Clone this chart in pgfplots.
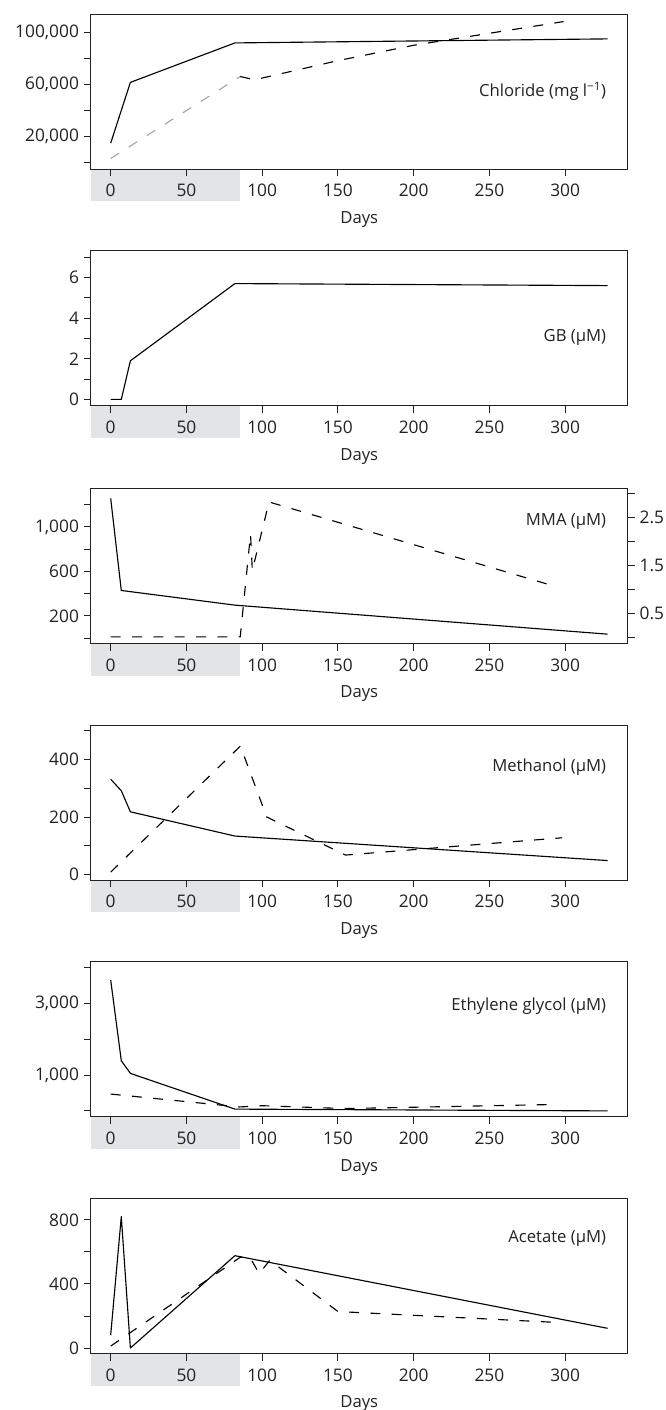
\documentclass[border=0pt]{standalone}
\usepackage{fontspec}
\setmainfont{Open Sans}
\usepackage{pgfplots}
\pgfplotsset{compat=1.18}
\definecolor{band}{HTML}{E3E4E6}
\definecolor{ink}{HTML}{222222}

\newcommand{\lbl}{\fontsize{12.5}{14}\selectfont}
\newcommand{\tck}{\fontsize{13}{15}\selectfont}
\pgfplotsset{
  base/.style={
    scale only axis, width=402.45pt, height=116.25pt,
    anchor=north west, clip=false,
    xmin=-13, xmax=341.2,
    axis line style={ink, line width=0.75pt},
    tick style={ink, line width=0.75pt},
    tick align=outside, major tick length=5.5pt,
    tick pos=left, scaled y ticks=false,
    tick label style={font=\tck, text=ink},
    cycle list={{black, mark=none}},
    every axis plot/.append style={line width=0.85pt, line join=round},
  },
  panel/.style={
    base,
    xtick={0,50,...,300}, xticklabels={0,50,100,150,200,250,300},
    xticklabel style={yshift=-2.5pt},
    xlabel={Days}, label style={font=\lbl, text=ink},
    xlabel style={at={(axis description cs:0.5,0)}, anchor=center, yshift=-38pt},
  },
  dsh/.style={dash pattern=on 7.5pt off 8.5pt},
}
% grey band under the first 85 days, below each panel
\newcommand{\band}[1]{\fill[band] (68.25pt,#1) rectangle (179.73pt,{#1-24.3pt});}
\newcommand{\tag}[2]{\node[anchor=east, font=\lbl, text=ink, inner sep=0pt] at (rel axis cs:0.9605,#1) {#2};}

\begin{document}
\begin{tikzpicture}
\band{-126.75pt}
\band{-304.25pt}
\band{-482.45pt}
\band{-660pt}
\band{-837.55pt}
\band{-1014.95pt}

% Chloride
\begin{axis}[panel, at={(68.25pt,-10.5pt)},
  ymin=-4700, ymax=114300,
  ytick={0,20000,40000,60000,80000,100000},
  yticklabels={{},{20,000},{},{60,000},{},{100,000}}]
  \addplot coordinates {(0,15200) (13,61800) (82,92100) (328,95200)};
  \addplot[gray!70, dsh] coordinates {(0,3400) (85.5,66300)};
  \addplot[dsh] coordinates {(85.5,66300) (95,63800) (150,78500) (200,90300) (299,108500)};
  \tag{0.4997}{Chloride (mg l\textsuperscript{−1})}
\end{axis}

% GB
\begin{axis}[panel, at={(68.25pt,-188.0pt)},
  ymin=-0.31, ymax=7.32,
  ytick={0,1,...,7}, yticklabels={0,,2,,4,,6,}]
  \addplot coordinates {(0,0) (7,0) (13,1.9) (82,5.7) (328,5.6)};
  \tag{0.438}{GB (μM)}
\end{axis}

% MMA
\begin{axis}[panel, at={(68.25pt,-366.2pt)},
  ymin=-47, ymax=1347,
  ytick={0,200,...,1200}, yticklabels={,200,,600,,{1,000},}]
  \addplot coordinates {(0,1256) (7,428) (82,296) (328,35)};
  \tag{0.784}{MMA (μM)}
\end{axis}
\begin{axis}[base, at={(68.25pt,-366.2pt)},
  axis y line*=right, axis x line=none, ytick pos=right,
  ymin=-0.1125, ymax=3.104,
  ytick={0,0.5,...,3}, yticklabels={,0.5,,1.5,,2.5,}]
  \addplot[dsh] coordinates {(0,0.02) (85.5,0.02) (92.3,2.15) (93.5,1.4) (104.5,2.82) (291,1.09)};
\end{axis}

% Methanol
\begin{axis}[panel, at={(68.25pt,-543.75pt)},
  ymin=-18.4, ymax=518.9,
  ytick={0,100,...,500}, yticklabels={0,,200,,400,}]
  \addplot coordinates {(0,331) (7,291) (13,218) (82,134) (328,49)};
  \addplot[dsh] coordinates {(0,9) (85.6,446) (103,200) (155,68) (298,128)};
  \tag{0.731}{Methanol (μM)}
\end{axis}

% Ethylene glycol
\begin{axis}[panel, at={(68.25pt,-721.3pt)},
  ymin=-163, ymax=4161,
  ytick={0,1000,...,4000}, yticklabels={,{1,000},,{3,000},}]
  \addplot coordinates {(0,3651) (7,1400) (13,1046) (82,50) (328,0)};
  \addplot[dsh] coordinates {(0,470) (85,110) (100,145) (155,65) (294,180)};
  \tag{0.714}{Ethylene glycol (μM)}
\end{axis}

% Acetate
\begin{axis}[panel, at={(68.25pt,-898.7pt)},
  ymin=-33, ymax=935.6,
  ytick={0,200,...,800}, yticklabels={0,,400,,800}]
  \addplot coordinates {(0,81) (7,821) (13,0) (82,577) (328,123)};
  \addplot[dsh] coordinates {(0,12) (85.5,567) (92,565) (98,465) (105,548) (150,228) (294,160)};
  \tag{0.742}{Acetate (μM)}
\end{axis}

\pgfresetboundingbox
\path[use as bounding box] (0,0) rectangle (498.75pt,-1057.5pt);
\end{tikzpicture}
\end{document}
